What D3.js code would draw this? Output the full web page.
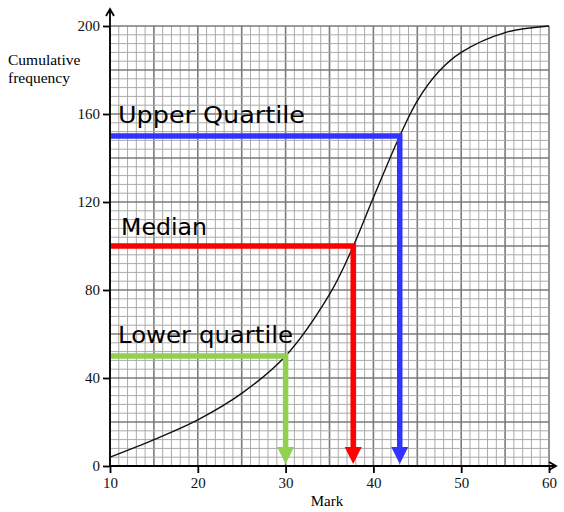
<!DOCTYPE html>
<html>
<head>
<meta charset="utf-8">
<script src="https://cdn.jsdelivr.net/npm/d3@7"></script>
<style>
  body { margin: 0; background: #fff; }
  svg { display: block; }
</style>
</head>
<body>
<script>
  var w = 564,
      h = 512;

  // cumulative frequency curve
  var marks = [10, 15, 20, 25, 30, 35, 37.5, 40, 43, 45, 47.5, 50, 55, 60],
      cumFreq = [4, 12, 21, 33, 50, 78, 98, 122, 150, 166, 179.5, 188, 197, 200];

  var xTicks = [10, 20, 30, 40, 50, 60],
      yTicks = [0, 40, 80, 120, 160, 200];

  // quartile reads
  var quartileNames = ["Lower quartile", "Median", "Upper Quartile"],
      quartileFreq = [50, 100, 150],
      quartileMark = [30, 37.7, 43],
      quartileColors = ["#92d050", "#ff0000", "#3333ff"];

  var x = d3.scaleLinear().domain([10, 60]).range([110, 549]),
      y = d3.scaleLinear().domain([0, 200]).range([466, 26]);

  var svg = d3.select("body").append("svg")
    .attr("width", w)
    .attr("height", h);

  // grid paper
  var grid = svg.append("g");
  grid.selectAll("line.v")
    .data(d3.range(10, 61, 1))
    .enter().append("line")
      .attr("x1", function(d) { return x(d); })
      .attr("x2", function(d) { return x(d); })
      .attr("y1", y(0)).attr("y2", y(200))
      .attr("stroke", function(d) { return d % 5 === 0 ? "#7a7a7a" : "#aaaaaa"; })
      .attr("stroke-width", function(d) { return d % 5 === 0 ? 1.6 : 1; });
  grid.selectAll("line.h")
    .data(d3.range(0, 201, 4))
    .enter().append("line")
      .attr("y1", function(d) { return y(d); })
      .attr("y2", function(d) { return y(d); })
      .attr("x1", x(10)).attr("x2", x(60))
      .attr("stroke", function(d) { return d % 20 === 0 ? "#7a7a7a" : "#aaaaaa"; })
      .attr("stroke-width", function(d) { return d % 20 === 0 ? 1.6 : 1; });

  // curve
  var line = d3.line()
    .x(function(d) { return x(d[0]); })
    .y(function(d) { return y(d[1]); })
    .curve(d3.curveCatmullRom.alpha(0.5));

  svg.append("path")
    .datum(d3.zip(marks, cumFreq))
    .attr("d", line)
    .attr("fill", "none")
    .attr("stroke", "#111")
    .attr("stroke-width", 1.4);

  // quartile lines + arrows
  var q = svg.selectAll("g.q")
    .data(d3.range(quartileNames.length))
    .enter().append("g");

  q.append("path")
    .attr("d", function(i) {
      var xm = x(quartileMark[i]), yq = y(quartileFreq[i]);
      return "M" + x(10) + "," + yq + "H" + xm + "V" + (y(0) - 19);
    })
    .attr("fill", "none")
    .attr("stroke", function(i) { return quartileColors[i]; })
    .attr("stroke-width", 5.5)
    .attr("stroke-linejoin", "miter");

  q.append("path")
    .attr("d", function(i) {
      var xm = x(quartileMark[i]), b = y(0) - 2;
      return "M" + (xm - 8.5) + "," + (b - 17) + "L" + (xm + 8.5) + "," + (b - 17) + "L" + xm + "," + b + "Z";
    })
    .attr("fill", function(i) { return quartileColors[i]; });

  q.append("text")
    .attr("x", function(i) { return [118, 121, 118][i]; })
    .attr("y", function(i) { return [343, 235, 123][i]; })
    .attr("textLength", function(i) { return [175, 86, 187][i]; })
    .attr("lengthAdjust", "spacingAndGlyphs")
    .style("font-family", "'Comic Sans MS', 'DejaVu Sans', sans-serif")
    .style("font-size", "23px")
    .attr("fill", "#000")
    .text(function(i) { return quartileNames[i]; });

  // axes
  var xAxis = d3.axisBottom(x).tickValues(xTicks).tickSize(7).tickPadding(4),
      yAxis = d3.axisLeft(y).tickValues(yTicks).tickSize(7).tickPadding(3);

  var gx = svg.append("g").attr("transform", "translate(0," + y(0) + ")").call(xAxis);
  var gy = svg.append("g").attr("transform", "translate(" + x(10) + ",0)").call(yAxis);

  [gx, gy].forEach(function(g) {
    g.select(".domain").remove();
    g.selectAll("line").attr("stroke", "#000").attr("stroke-width", 1.8);
    g.selectAll("text")
      .style("font-family", "'Liberation Serif', 'Times New Roman', serif")
      .style("font-size", "15px")
      .attr("fill", "#111");
  });

  // axis lines with open arrowheads
  svg.append("path")
    .attr("d", "M" + x(10) + "," + y(0) + "V10 M" + (x(10) - 4) + ",16 L" + x(10) + ",9 L" + (x(10) + 4) + ",16")
    .attr("fill", "none").attr("stroke", "#000").attr("stroke-width", 1.8);
  svg.append("path")
    .attr("d", "M" + x(10) + "," + y(0) + "H556 M549," + (y(0) - 4) + " L556," + y(0) + " L549," + (y(0) + 4))
    .attr("fill", "none").attr("stroke", "#000").attr("stroke-width", 1.8);

  // axis titles
  var serif = "'Liberation Serif', 'Times New Roman', serif";
  svg.append("text")
    .attr("x", 327).attr("y", 506)
    .attr("text-anchor", "middle")
    .style("font-family", serif).style("font-size", "15px")
    .text("Mark");
  svg.append("text")
    .attr("x", 8).attr("y", 65)
    .style("font-family", serif).style("font-size", "15.5px")
    .text("Cumulative");
  svg.append("text")
    .attr("x", 8).attr("y", 83)
    .style("font-family", serif).style("font-size", "15.5px")
    .text("frequency");
</script>
</body>
</html>
